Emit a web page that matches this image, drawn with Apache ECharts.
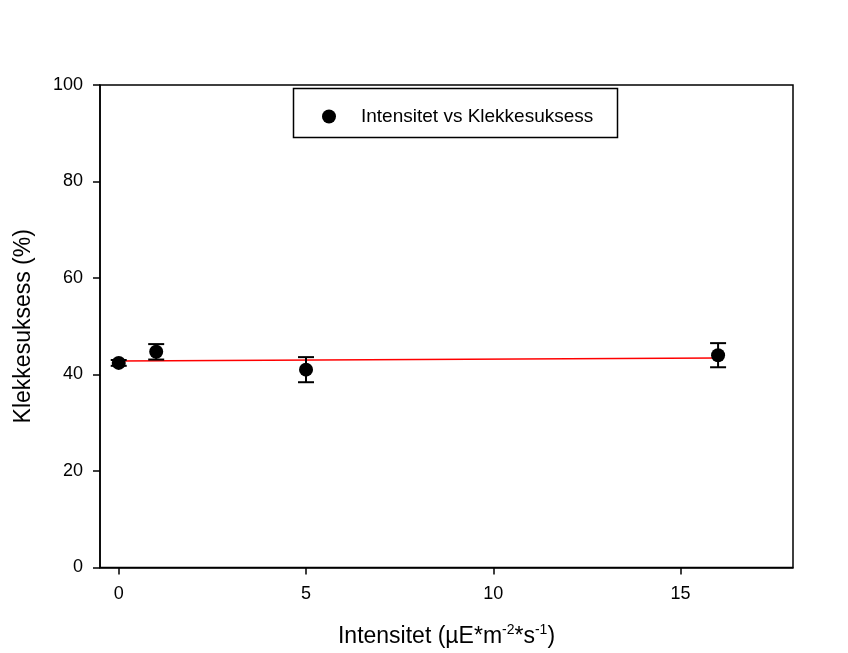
<!DOCTYPE html>
<html>
<head>
<meta charset="utf-8">
<script src="https://cdn.jsdelivr.net/npm/echarts@6/dist/echarts.min.js"></script>
<style>
  html, body { margin: 0; padding: 0; background: #fff; }
  #chart { width: 848px; height: 653px; }
</style>
</head>
<body>
<div id="chart"></div>
<script>
// measured values
const intensity = [0, 1, 5, 16];
const success = [42.4, 44.7, 41.0, 44.0];
const errors = [0.6, 1.6, 2.6, 2.5];
// regression line end points
const fitX = [0, 16];
const fitY = [42.8, 43.4];
const yTicks = [0, 20, 40, 60, 80, 100];
const xTicks = [0, 5, 10, 15];

const FONT = 'Liberation Sans, Arial, sans-serif';

const chart = echarts.init(document.getElementById('chart'), null, { renderer: 'canvas' });

const pointData = intensity.map((x, i) => [x, success[i]]);
const errData = intensity.map((x, i) => [x, success[i] - errors[i], success[i] + errors[i]]);
const fitData = fitX.map((x, i) => [x, fitY[i]]);

const option = {
    animation: false,
    backgroundColor: '#fff',
    grid: {
        left: 100, right: 55, top: 85, bottom: 84,
        show: true, borderColor: '#000', borderWidth: 1.5
    },
    xAxis: {
        type: 'value',
        min: -0.5, max: 18,
        name: 'Intensitet (µE*m{sup|-2}*s{sup|-1})',
        nameLocation: 'middle',
        nameGap: 56,
        nameTextStyle: {
            fontFamily: FONT, fontSize: 23, color: '#000',
            rich: { sup: { fontFamily: FONT, fontSize: 14, color: '#000', verticalAlign: 'top', padding: [0, 0, 12, 0] } }
        },
        splitLine: { show: false },
        axisLine: { onZero: false, lineStyle: { color: '#000', width: 1.5 } },
        axisTick: { inside: false, length: 7, customValues: xTicks, lineStyle: { color: '#000', width: 1.5 } },
        axisLabel: {
            fontFamily: FONT, fontSize: 18, color: '#000', margin: 18,
            customValues: xTicks
        }
    },
    yAxis: {
        type: 'value',
        min: 0, max: 100, interval: 20,
        name: 'Klekkesuksess (%)',
        nameLocation: 'middle',
        nameGap: 65,
        nameTextStyle: { fontFamily: FONT, fontSize: 23, color: '#000' },
        splitLine: { show: false },
        axisLine: { onZero: false, lineStyle: { color: '#000', width: 1.5 } },
        axisTick: { inside: false, length: 7, lineStyle: { color: '#000', width: 1.5 } },
        axisLabel: {
            fontFamily: FONT, fontSize: 18, color: '#000', margin: 17,
            formatter: v => (yTicks.includes(v) ? String(v) : '')
        }
    },
    legend: {
        left: 317, top: 102,
        itemWidth: 14, itemHeight: 14, itemGap: 10,
        textStyle: { fontFamily: FONT, fontSize: 19, color: '#000', padding: [0, 0, 0, 20] },
        data: [{ name: 'Intensitet vs Klekkesuksess', icon: 'circle' }]
    },
    graphic: [{
        type: 'rect',
        shape: { x: 293.5, y: 88.5, width: 324, height: 49 },
        style: { fill: 'none', stroke: '#000', lineWidth: 1.5 },
        z: 10
    }],
    series: [
        {
            name: 'fit',
            type: 'line',
            data: fitData,
            symbol: 'none',
            lineStyle: { color: '#ff0000', width: 1.5 },
            z: 2
        },
        {
            name: 'errorbars',
            type: 'custom',
            data: errData,
            z: 3,
            renderItem: function (params, api) {
                const x = api.value(0);
                const lo = api.coord([x, api.value(1)]);
                const hi = api.coord([x, api.value(2)]);
                const half = 8;
                const style = { stroke: '#000', lineWidth: 2 };
                return {
                    type: 'group',
                    children: [
                        { type: 'line', shape: { x1: lo[0], y1: lo[1], x2: hi[0], y2: hi[1] }, style },
                        { type: 'line', shape: { x1: lo[0] - half, y1: lo[1], x2: lo[0] + half, y2: lo[1] }, style },
                        { type: 'line', shape: { x1: hi[0] - half, y1: hi[1], x2: hi[0] + half, y2: hi[1] }, style }
                    ]
                };
            }
        },
        {
            name: 'Intensitet vs Klekkesuksess',
            type: 'scatter',
            data: pointData,
            symbol: 'circle',
            symbolSize: 14,
            itemStyle: { color: '#000', opacity: 1 },
            z: 4
        }
    ]
};

chart.setOption(option);
</script>
</body>
</html>
